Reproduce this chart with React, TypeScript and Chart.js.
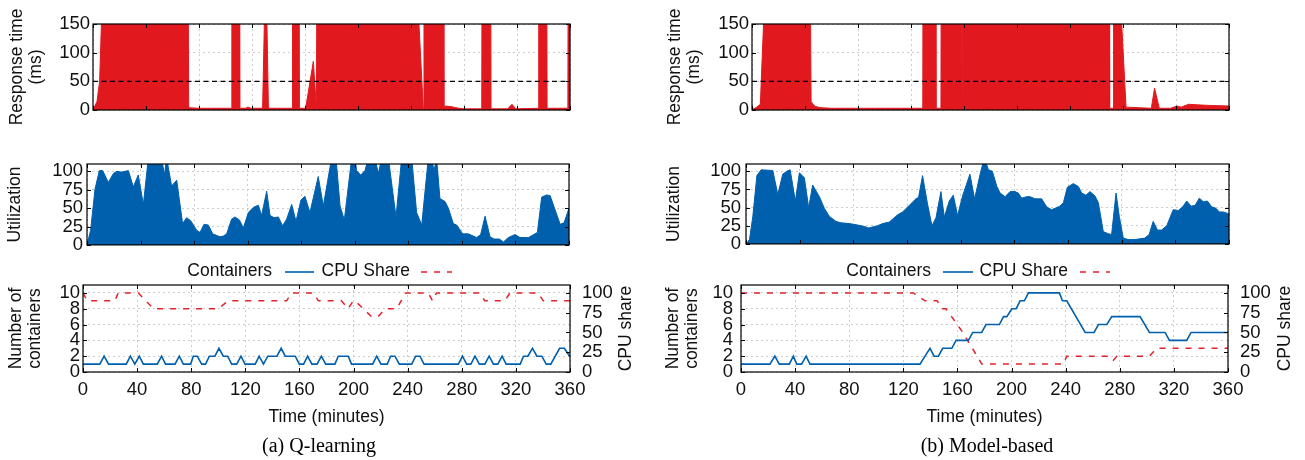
import React, { useEffect, useRef } from 'react';
import { Chart, registerables } from 'chart.js';

Chart.register(...registerables);

type Pt = [number, number];

// ---------------- axes / labels ----------------
const TIME_TICKS = [0, 40, 80, 120, 160, 200, 240, 280, 320, 360];
const RESPONSE_TICKS = [0, 50, 100, 150];
const UTIL_TICKS = [0, 25, 50, 75, 100];
const CONTAINER_TICKS = [0, 2, 4, 6, 8, 10];
const SHARE_TICKS = [0, 25, 50, 75, 100];
const SLO_MS = 50;
const CAPTIONS = ['(a) Q-learning', '(b) Model-based'];
const LEGEND_LABELS = ['Containers', 'CPU Share'];
const X_TITLE = 'Time (minutes)';

// ---------------- (a) Q-learning ----------------
const responseQ: Pt[] = [
  [0, 1], [1, 5], [3, 15], [5, 50], [6.4, 155], [7, 500],
  [42.5, 500], [43, 95], [43.5, 500],
  [71.5, 500], [72.2, 4], [80, 3], [104.3, 3], [104.8, 500], [110.2, 500], [110.7, 3],
  [115, 3], [117, 5], [119, 3],
  [128, 3], [129.4, 160], [131.2, 160], [132.4, 3],
  [150.2, 3], [150.6, 500], [155.4, 500], [155.8, 3],
  [160.5, 3], [166.3, 85], [168.6, 3], [169.4, 500],
  [192, 500], [192.3, 140], [192.6, 500],
  [230.3, 500], [230.6, 140], [230.9, 500],
  [246, 150], [249.3, 2], [249.8, 500],
  [264.4, 500], [264.8, 7], [270, 6], [276, 3], [280, 2],
  [293.4, 2], [293.8, 500], [300, 500], [300.4, 2],
  [313, 2], [316.2, 10], [319, 2],
  [336, 3], [336.4, 500], [342.3, 500], [342.7, 3],
  [358.4, 3], [358.8, 500], [360, 500],
];

const utilQ: Pt[] = [
  [0, 0], [2.7, 20], [6, 76], [9.2, 101], [11.7, 101], [15.9, 85], [19.7, 97], [22.2, 100],
  [25.9, 99], [30.9, 101], [34.6, 79], [38.3, 95], [42.1, 55], [45.8, 118], [55.8, 118],
  [57.8, 95], [59.5, 118], [63.2, 80], [67, 88], [71.4, 29], [74.4, 37], [77.4, 33],
  [81.9, 20], [84.4, 17], [87.4, 28], [90.6, 27], [93.9, 15], [99.3, 11], [101.8, 12],
  [104.3, 15], [108, 35], [110.5, 38], [113.8, 34], [116.8, 23], [120.5, 44], [124.2, 51],
  [128, 54], [130.4, 40], [134.2, 73], [136.7, 40], [139.7, 37], [142.9, 38], [146.1, 26],
  [149.1, 35], [152.9, 55], [156.1, 32], [159.8, 61], [162.8, 66], [166.5, 44], [172.7, 93],
  [176.5, 53], [182.7, 118], [186, 118], [189, 53], [192.2, 34], [197.7, 118], [200.5, 112],
  [201.4, 101], [204.4, 95], [207.6, 101], [210.1, 118], [215.1, 118], [217.6, 97],
  [220.1, 118], [225.1, 118], [230.8, 38], [235, 118], [242.5, 118], [246.2, 44], [250, 27],
  [254.9, 118], [258.1, 112], [259.1, 100], [261.1, 118], [263.6, 63], [267.4, 59],
  [269.9, 50], [273.6, 29], [276.1, 27], [280.6, 15], [284.8, 15], [291, 10], [294, 14],
  [297.3, 39], [301, 11], [304, 8], [308, 8], [311, 4], [314.7, 10], [319.7, 14],
  [323.4, 10], [329.7, 10], [336.4, 17], [339.6, 65], [343.4, 68], [345.9, 67],
  [353.4, 28], [356.3, 30], [360, 50],
];

const containersQ: Pt[] = [
  [0, 1], [12.4, 1], [15.6, 2], [18.9, 1], [32, 1], [35, 2], [38.3, 1], [41.6, 2], [44.6, 1],
  [54.9, 1], [58.1, 2], [61, 1], [68, 1], [71.2, 2], [74.2, 1], [79.6, 1], [81.5, 2], [84.5, 2],
  [87.7, 1], [90.6, 1], [93.4, 2], [97.5, 2], [100.5, 3], [103.7, 2], [106.9, 2], [109.9, 1],
  [113.6, 1], [116.8, 2], [119.8, 1], [127.3, 1], [130.2, 2], [133.4, 1], [136.6, 2],
  [143.3, 2], [146.5, 3], [149.5, 2], [156.9, 2], [159.9, 1], [163.1, 1], [166, 2], [169.2, 1],
  [173, 1], [176.2, 2], [179.4, 1], [186.2, 1], [188.7, 2], [196.1, 2], [198.5, 1], [214.1, 1],
  [217.1, 2], [220.3, 1], [224.9, 1], [227.4, 2], [230.6, 2], [233.8, 1], [243, 1], [245.9, 2],
  [249.1, 2], [252.1, 1], [277.5, 1], [280.5, 2], [283.6, 1], [286.7, 1], [289.8, 2], [293, 1],
  [297, 1], [300.2, 2], [303.4, 1], [306.6, 1], [309.8, 2], [312.8, 1], [323.2, 1], [325.6, 2],
  [328.8, 2], [332.3, 3], [335.5, 2], [339.2, 2], [342.4, 1], [345.8, 1], [352.3, 3],
  [355.8, 3], [359.7, 2], [360, 2],
];

const cpuShareQ: Pt[] = [
  [0, 100], [3, 90], [23.6, 90], [26, 100], [40.9, 100], [52, 80], [100, 80], [107.4, 90],
  [150.5, 90], [154.2, 100], [170.3, 100], [174, 90], [191, 90], [196, 80], [199.8, 90],
  [201, 90], [213.3, 70], [218.2, 70], [223.3, 80], [231.8, 80], [238.7, 100], [255.2, 100],
  [258.4, 90], [261.3, 100], [293.3, 100], [297, 90], [311.8, 90], [315.6, 100], [336.5, 100],
  [340.2, 90], [360, 90],
];

// ---------------- (b) Model-based ----------------
const responseMB: Pt[] = [
  [0, 1], [3, 4], [6.3, 10], [8.8, 155], [9.5, 500],
  [43.2, 500], [44.6, 15], [46, 10], [48, 6], [52, 4], [60, 3],
  [128.9, 3], [129.2, 500], [138.8, 500], [139.1, 3], [142.6, 3], [142.9, 500],
  [148.8, 500], [149, 5], [149.2, 500],
  [158.3, 500], [158.5, 2], [158.8, 500],
  [170.8, 500], [171, 140], [171.2, 500],
  [269.6, 500], [269.9, 3], [272.6, 3], [272.9, 500],
  [278.9, 155], [282.3, 5], [292, 4], [301.4, 3], [303.8, 38], [307.4, 3],
  [316, 3], [320.8, 7], [324, 5], [329.5, 10], [336, 9], [345, 8], [360, 7],
];

const utilMB: Pt[] = [
  [0, 0], [2.6, 6], [5.1, 38], [8.1, 94], [11.3, 102], [20, 101], [23.7, 68], [27.4, 96],
  [30.4, 100], [32.9, 102], [36.8, 59], [39.8, 98], [43.5, 91], [46.7, 50], [49.7, 81],
  [54.7, 65], [58.4, 49], [62.1, 38], [67.1, 31], [70.8, 29], [77, 28], [83.2, 26],
  [88.2, 24], [91.4, 22], [98.1, 25], [101.8, 28], [106.8, 30], [113, 40], [116.7, 44],
  [121.7, 53], [126.6, 62], [128.6, 64], [131.6, 94], [135.3, 55], [138.6, 25], [141.6, 36],
  [145.3, 72], [147.8, 37], [151.5, 59], [154.5, 67], [157.7, 39], [161.4, 66], [166.9, 96],
  [170.4, 62], [174.5, 96], [177, 114], [178.5, 114], [180.7, 102], [183.6, 100], [187, 79],
  [189.4, 70], [193.1, 65], [196.8, 72], [200.5, 72], [203, 70], [205.5, 63], [209.2, 65],
  [211.7, 65], [215.4, 62], [220.4, 62], [224.1, 51], [227.8, 47], [234, 52], [236.6, 57],
  [239.5, 78], [244, 83], [247.7, 79], [250.2, 70], [253.4, 67], [256.4, 72], [260.1, 66],
  [262.6, 57], [266.3, 17], [270, 14], [272.5, 13], [275.8, 70], [278.2, 38], [281.2, 8],
  [284.9, 6], [289.9, 6], [297.3, 8], [300.5, 13], [303.5, 31], [306.7, 19], [309.7, 19],
  [313.6, 25], [318.4, 47], [322.3, 46], [325.5, 51], [328.5, 59], [331.7, 52], [334.7, 53],
  [337.9, 63], [340.9, 58], [343.9, 59], [347.1, 51], [350.3, 49], [352.8, 44], [355.8, 44],
  [359, 42], [360, 42],
];

const containersMB: Pt[] = [
  [0, 1], [21.4, 1], [25, 2], [28.3, 1], [35.7, 1], [38.7, 2], [41.2, 1], [44.8, 1], [48.1, 2],
  [51, 1], [132.3, 1], [139.7, 3], [142.7, 2], [145.9, 2], [149.1, 3], [155.8, 3], [159, 4],
  [168.1, 4], [171.3, 5], [177.9, 5], [181.1, 6], [191, 6], [194.1, 7], [196.5, 7], [200.2, 8],
  [203.4, 8], [206.3, 9], [209.5, 9], [212.5, 10], [235.4, 10], [237.6, 9], [240.8, 9],
  [254.4, 5], [261, 5], [264.2, 6], [270.4, 6], [274.1, 7], [295, 7], [301.9, 5], [313.5, 5],
  [316.7, 4], [329.5, 4], [332.7, 5], [360, 5],
];

const cpuShareMB: Pt[] = [
  [0, 100], [127.4, 100], [136, 90], [145, 90], [148.5, 80], [151.5, 80], [164, 50],
  [174.5, 20], [178, 10], [238.3, 10], [240.8, 20], [272.9, 20], [275.3, 15], [277.8, 20],
  [301.9, 20], [307.3, 30], [360, 30],
];

// ---------------- styling ----------------
const FONT = "'Liberation Sans', Arial, Helvetica, sans-serif";
const SERIF = "'Liberation Serif', 'Times New Roman', serif";
const RED = '#e1191f';
const RED_LINE = '#e4222a';
const BLUE = '#0060ad';
const GRID = '#cdcdcd';
const INK = '#111111';
const FS = 17.5;
const TICK_FS = 18.5;

const toXY = (pts: Pt[]) => pts.map(([x, y]) => ({ x, y }));

interface Area { left: number; top: number; right: number; bottom: number; }
interface LegendItem { textRight: number; x0: number; x1: number; }
interface Spec {
  width: number;
  height: number;
  area: Area;
  yMax: number;
  yTicks: number[];
  yTitle: string[];
  yTitlePad: number;
  yTickPad: number;
  showX: boolean;
  datasets: any[];
  y2?: { max: number; ticks: number[]; title: string; titleOffset: number };
  legend?: { y: number; items: LegendItem[] };
}

function makeFramePlugin(s: Spec) {
  return {
    id: 'frame',
    afterDraw(chart: any) {
      const { ctx, chartArea: a, scales } = chart;
      const TL = 4;
      ctx.save();
      ctx.setLineDash([]);
      ctx.strokeStyle = '#000';
      ctx.lineWidth = 1;
      ctx.beginPath();
      const sx = scales.x;
      for (const t of sx.ticks) {
        const px = Math.round(sx.getPixelForValue(t.value)) + 0.5;
        ctx.moveTo(px, a.bottom); ctx.lineTo(px, a.bottom - TL);
        ctx.moveTo(px, a.top); ctx.lineTo(px, a.top + TL);
      }
      const sy = scales.y;
      const sy2 = scales.y2;
      for (const t of sy.ticks) {
        const py = Math.round(sy.getPixelForValue(t.value)) + 0.5;
        ctx.moveTo(a.left, py); ctx.lineTo(a.left + TL, py);
        if (!sy2) { ctx.moveTo(a.right, py); ctx.lineTo(a.right - TL, py); }
      }
      if (sy2) {
        for (const t of sy2.ticks) {
          const py = Math.round(sy2.getPixelForValue(t.value)) + 0.5;
          ctx.moveTo(a.right, py); ctx.lineTo(a.right - TL, py);
        }
      }
      ctx.stroke();
      ctx.lineWidth = 1.2;
      ctx.strokeRect(a.left, a.top, a.right - a.left, a.bottom - a.top);

      ctx.fillStyle = INK;
      ctx.font = `${FS}px ${FONT}`;
      if (s.y2) {
        ctx.save();
        ctx.translate(a.right + s.y2.titleOffset, (a.top + a.bottom) / 2);
        ctx.rotate(-Math.PI / 2);
        ctx.textAlign = 'center';
        ctx.textBaseline = 'middle';
        ctx.fillText(s.y2.title, 0, 0);
        ctx.restore();
      }
      if (s.legend) {
        const L = s.legend;
        chart.data.datasets.forEach((ds: any, i: number) => {
          const it = L.items[i];
          if (!it) return;
          ctx.fillStyle = INK;
          ctx.textAlign = 'right';
          ctx.textBaseline = 'middle';
          ctx.fillText(ds.label, it.textRight, L.y);
          ctx.strokeStyle = ds.borderColor;
          ctx.lineWidth = ds.borderWidth;
          ctx.setLineDash(ds.borderDash || []);
          ctx.beginPath();
          ctx.moveTo(it.x0, L.y + 0.5);
          ctx.lineTo(it.x1, L.y + 0.5);
          ctx.stroke();
        });
      }
      ctx.restore();
    },
  };
}

function buildConfig(s: Spec): any {
  const xHeight = s.showX ? 56 : 0;
  const rightSpace = s.width - s.area.right;
  const tickFont = { family: FONT, size: TICK_FS, lineHeight: 1.2 };
  const labelFont = { family: FONT, size: FS, lineHeight: 1.2 };
  const scales: any = {
    x: {
      type: 'linear',
      min: 0,
      max: 360,
      afterBuildTicks: (ax: any) => { ax.ticks = TIME_TICKS.map((v) => ({ value: v })); },
      afterFit: (ax: any) => { ax.height = xHeight; },
      grid: { color: GRID, lineWidth: 1, drawTicks: false },
      border: { display: false, dash: [2, 3] },
      ticks: { display: s.showX, padding: 6.5, color: INK, font: tickFont, maxRotation: 0, autoSkip: false },
      title: { display: s.showX, text: X_TITLE, color: INK, font: labelFont, padding: 0 },
    },
    y: {
      type: 'linear',
      min: 0,
      max: s.yMax,
      afterBuildTicks: (ax: any) => { ax.ticks = s.yTicks.map((v) => ({ value: v })); },
      afterFit: (ax: any) => { ax.width = s.area.left; },
      grid: { color: GRID, lineWidth: 1, drawTicks: false },
      border: { display: false, dash: [2, 3] },
      ticks: { padding: s.yTickPad, color: INK, font: tickFont, autoSkip: false },
      title: {
        display: true,
        text: s.yTitle,
        color: INK,
        font: { family: FONT, size: FS, lineHeight: 1.08 },
        padding: { top: s.yTitlePad, bottom: 0 },
      },
    },
  };
  if (s.y2) {
    const y2 = s.y2;
    scales.y2 = {
      type: 'linear',
      position: 'right',
      min: 0,
      max: y2.max,
      afterBuildTicks: (ax: any) => { ax.ticks = y2.ticks.map((v) => ({ value: v })); },
      afterFit: (ax: any) => { ax.width = rightSpace; },
      grid: { drawOnChartArea: false, drawTicks: false },
      border: { display: false },
      ticks: { padding: 12, color: INK, font: tickFont, autoSkip: false },
    };
  }
  return {
    type: 'line',
    data: { datasets: s.datasets },
    options: {
      animation: false,
      responsive: false,
      maintainAspectRatio: false,
      events: [],
      layout: {
        padding: {
          left: 0,
          top: s.area.top,
          right: s.y2 ? 0 : rightSpace,
          bottom: s.height - s.area.bottom - xHeight,
        },
      },
      elements: { point: { radius: 0 }, line: { tension: 0 } },
      plugins: { legend: { display: false }, tooltip: { enabled: false } },
      scales,
    },
    plugins: [makeFramePlugin(s)],
  };
}

function responseSets(data: Pt[]) {
  return [
    {
      label: 'SLO',
      data: toXY([[0, SLO_MS], [360, SLO_MS]]),
      borderColor: '#000',
      borderWidth: 1.2,
      borderDash: [5, 3.5],
      fill: false,
      pointRadius: 0,
      order: 1,
    },
    {
      label: 'Response time',
      data: toXY(data),
      borderColor: RED,
      backgroundColor: RED,
      borderWidth: 1,
      fill: 'origin',
      pointRadius: 0,
      order: 2,
    },
  ];
}

function utilSets(data: Pt[]) {
  return [
    {
      label: 'Utilization',
      data: toXY(data),
      borderColor: BLUE,
      backgroundColor: BLUE,
      borderWidth: 1,
      fill: 'origin',
      pointRadius: 0,
    },
  ];
}

function resourceSets(containers: Pt[], share: Pt[]) {
  return [
    {
      label: LEGEND_LABELS[0],
      data: toXY(containers),
      borderColor: BLUE,
      borderWidth: 1.6,
      fill: false,
      pointRadius: 0,
      yAxisID: 'y',
    },
    {
      label: LEGEND_LABELS[1],
      data: toXY(share),
      borderColor: RED_LINE,
      borderWidth: 1.5,
      borderDash: [6, 7],
      fill: false,
      pointRadius: 0,
      yAxisID: 'y2',
    },
  ];
}

function Panel({ left, top, spec }: { left: number; top: number; spec: Spec }) {
  const ref = useRef<HTMLCanvasElement>(null);
  useEffect(() => {
    if (!ref.current) return;
    const chart = new Chart(ref.current, buildConfig(spec));
    return () => chart.destroy();
  }, []);
  return (
    <canvas
      ref={ref}
      width={spec.width}
      height={spec.height}
      style={{ position: 'absolute', left, top, width: spec.width, height: spec.height, display: 'block' }}
    />
  );
}

const specs = {
  qTop: {
    width: 650, height: 125, area: { left: 93, top: 24, right: 570, bottom: 110 },
    yMax: 150, yTicks: RESPONSE_TICKS, yTitle: ['Response time', '(ms)'], yTitlePad: 7.6, yTickPad: 3,
    showX: false, datasets: responseSets(responseQ),
  } as Spec,
  qMid: {
    width: 650, height: 135, area: { left: 87, top: 39, right: 569, bottom: 124 },
    yMax: 110, yTicks: UTIL_TICKS, yTitle: ['Utilization'], yTitlePad: 6.2, yTickPad: 4,
    showX: false, datasets: utilSets(utilQ),
  } as Spec,
  qBot: {
    width: 650, height: 205, area: { left: 83, top: 30, right: 570, bottom: 117 },
    yMax: 11, yTicks: CONTAINER_TICKS, yTitle: ['Number of', 'containers'], yTitlePad: 6.6, yTickPad: 3,
    showX: true, datasets: resourceSets(containersQ, cpuShareQ),
    y2: { max: 110, ticks: SHARE_TICKS, title: 'CPU share', titleOffset: 56 },
    legend: { y: 16.5, items: [{ textRight: 272, x0: 285, x1: 314 }, { textRight: 410, x0: 421, x1: 452 }] },
  } as Spec,
  mTop: {
    width: 655, height: 125, area: { left: 102, top: 24, right: 579, bottom: 110 },
    yMax: 150, yTicks: RESPONSE_TICKS, yTitle: ['Response time', '(ms)'], yTitlePad: 15.6, yTickPad: 3,
    showX: false, datasets: responseSets(responseMB),
  } as Spec,
  mMid: {
    width: 655, height: 135, area: { left: 96, top: 39, right: 579, bottom: 124 },
    yMax: 110, yTicks: UTIL_TICKS, yTitle: ['Utilization'], yTitlePad: 14.6, yTickPad: 5,
    showX: false, datasets: utilSets(utilMB),
  } as Spec,
  mBot: {
    width: 655, height: 205, area: { left: 91, top: 30, right: 578, bottom: 117 },
    yMax: 11, yTicks: CONTAINER_TICKS, yTitle: ['Number of', 'containers'], yTitlePad: 13.6, yTickPad: 8,
    showX: true, datasets: resourceSets(containersMB, cpuShareMB),
    y2: { max: 110, ticks: SHARE_TICKS, title: 'CPU share', titleOffset: 57 },
    legend: { y: 16.5, items: [{ textRight: 281, x0: 293, x1: 323 }, { textRight: 418, x0: 430, x1: 460 }] },
  } as Spec,
};

const captionStyle = (center: number): React.CSSProperties => ({
  position: 'absolute',
  left: center - 150,
  width: 300,
  top: 434,
  textAlign: 'center',
  fontFamily: SERIF,
  fontSize: 20,
  lineHeight: '22px',
  color: '#000',
  whiteSpace: 'nowrap',
});

export default function App() {
  return (
    <div style={{ position: 'absolute', left: 0, top: 0, width: 1305, height: 460, background: '#fff', overflow: 'hidden' }}>
      <Panel left={0} top={0} spec={specs.qTop} />
      <Panel left={0} top={125} spec={specs.qMid} />
      <Panel left={0} top={255} spec={specs.qBot} />
      <Panel left={650} top={0} spec={specs.mTop} />
      <Panel left={650} top={125} spec={specs.mMid} />
      <Panel left={650} top={255} spec={specs.mBot} />
      <div style={captionStyle(319)}>{CAPTIONS[0]}</div>
      <div style={captionStyle(987)}>{CAPTIONS[1]}</div>
    </div>
  );
}
